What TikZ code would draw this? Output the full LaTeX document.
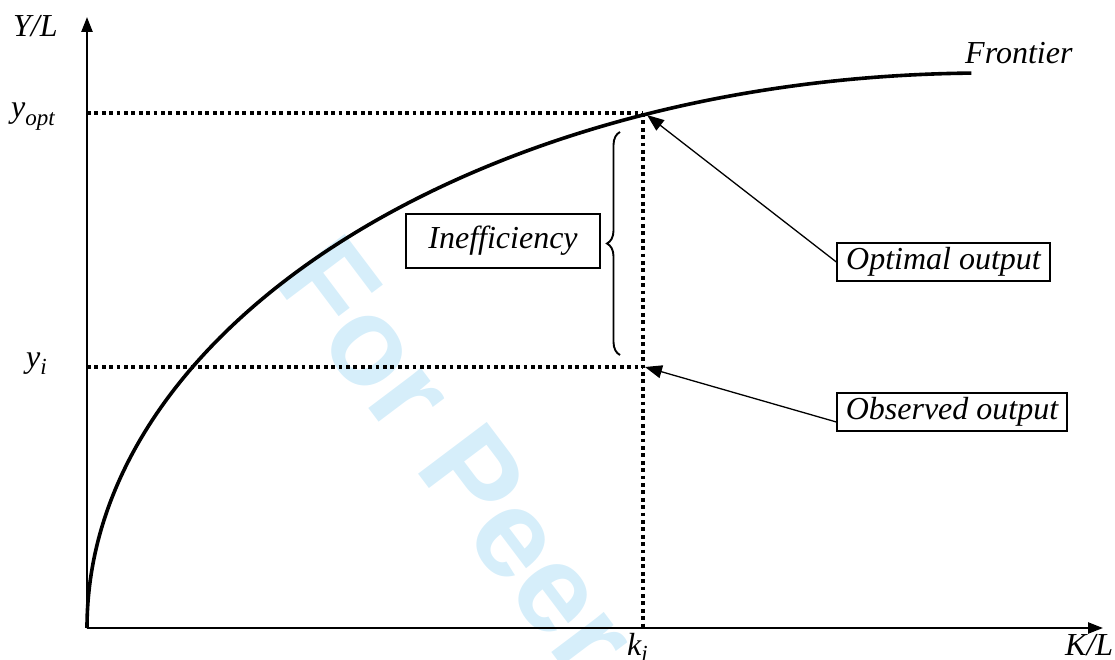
\documentclass[tikz,border=0pt]{standalone}
\usepackage{fontspec}
\setmainfont{Liberation Serif}
\newfontfamily\wmfont{Liberation Sans}
\usetikzlibrary{arrows.meta,decorations.pathreplacing}
\definecolor{wmblue}{RGB}{214,238,250}
\tikzset{
  axisline/.style={line width=2.4pt,-{Triangle[length=15pt,width=11pt]}},
  dotline/.style={line width=3.6pt,dash pattern=on 3.8pt off 3.6pt},
  callout/.style={line width=1.3pt,-{Triangle[length=17pt,width=13pt]}},
  labelbox/.style={draw,line width=1.3pt,inner sep=0pt,font=\fontsize{32}{38}\selectfont\itshape},
  lab/.style={font=\fontsize{32}{38}\selectfont\itshape,inner sep=0pt,anchor=base west},
}
\begin{document}
\begin{tikzpicture}[x=1pt,y=1pt]
\useasboundingbox (0,0) rectangle (1115,659);
% watermark
\node[text=wmblue,font=\wmfont\bfseries\fontsize{125}{125}\selectfont,rotate=-53,anchor=base west,inner sep=0pt] (wm) at (271,380) {For Peer};
% coordinates
\coordinate (O) at (87,31);
\coordinate (ytop) at (87,642);
\coordinate (xend) at (1103,31);
\coordinate (yoptL) at (87,546);
\coordinate (P) at (643,546);
\coordinate (yiL) at (87,292);
\coordinate (Q) at (643,292);
\coordinate (kB) at (643,31);
\coordinate (Ptip) at (647,544);
\coordinate (Qtip) at (645,292);
\coordinate (brB) at (620,304);
\coordinate (brT) at (620,527);
% dotted guides
\draw[dotline] (yoptL) -- (P);
\draw[dotline] (yiL) -- (Q);
\draw[dotline] (P) -- (kB);
% axes
\draw[axisline] (O) -- (ytop);
\draw[axisline] (O) -- (xend);
% frontier (quarter ellipse)
\draw[line width=3.6pt] (O) arc[start angle=180,end angle=91,x radius=900,y radius=555];
% brace
\draw[line width=1.9pt,decorate,decoration={brace,amplitude=13pt}] (brB) -- (brT);
% boxes
\node[labelbox,minimum width=194pt,minimum height=54pt] (ineff) at (503,418) {Inefficiency};
\node[labelbox,minimum width=213pt,minimum height=38pt] (opt) at (943.5,397) {Optimal output};
\node[labelbox,minimum width=230pt,minimum height=38pt] (obs) at (952,247) {Observed output};
% callouts
\draw[callout] (opt.west) -- (Ptip);
\draw[callout] ([yshift=-10pt]obs.west) -- (Qtip);
% labels
\node[lab] (YL) at (13,622) {Y/L};
\node[lab] (yopt) at (11,541) {y\raisebox{-0.22em}{\fontsize{23}{23}\selectfont opt}};
\node[lab] (yi) at (26,291) {y\raisebox{-0.2em}{\fontsize{23}{23}\selectfont i}};
\node[lab] (ki) at (627,4) {k\raisebox{-0.2em}{\fontsize{23}{23}\selectfont i}};
\node[lab] (KL) at (1065,4) {K/L};
\node[lab] (fr) at (965,595) {Frontier};
\end{tikzpicture}
\end{document}
